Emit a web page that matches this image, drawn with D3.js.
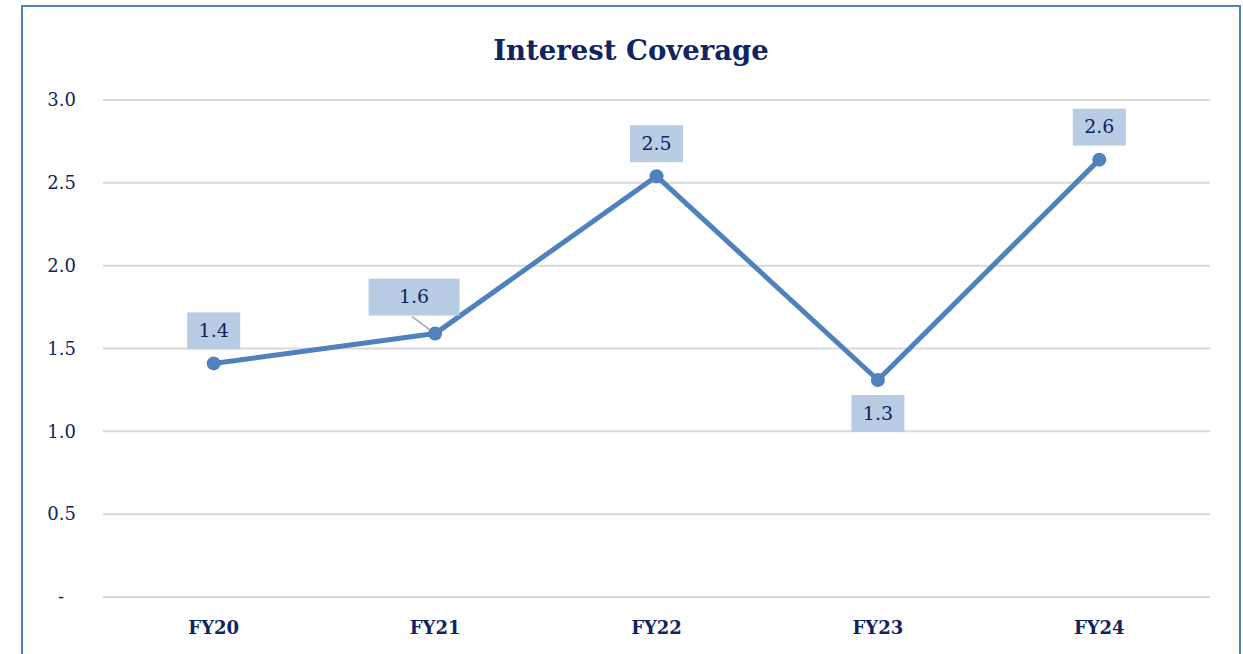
<!DOCTYPE html>
<html>
<head>
<meta charset="utf-8">
<script src="https://d3js.org/d3.v7.min.js"></script>
<style>
  body { margin: 0; background: #fff; }
  text { font-family: "DejaVu Serif", "Liberation Serif", serif; }
</style>
</head>
<body>
<script>
// data
var years = ["FY20", "FY21", "FY22", "FY23", "FY24"];
var coverage = [1.41, 1.59, 2.54, 1.31, 2.64];
var yTicks = [0, 0.5, 1.0, 1.5, 2.0, 2.5, 3.0];

var width = 1243, height = 654;
var plotLeft = 103, plotRight = 1210, plotTop = 100, plotBottom = 597;
var navy = "#0F2461";

var svg = d3.select("body").append("svg")
  .attr("width", width).attr("height", height);

// chart border
svg.append("rect")
  .attr("x", 22).attr("y", 6)
  .attr("width", 1218).attr("height", 700)
  .attr("fill", "#fff")
  .attr("stroke", "#4F81BD").attr("stroke-width", 2);

var x = d3.scaleBand().domain(years).range([plotLeft, plotRight]);
var y = d3.scaleLinear().domain([0, 3]).range([plotBottom, plotTop]);

// gridlines
svg.append("g").selectAll("line").data(yTicks).enter().append("line")
  .attr("x1", plotLeft).attr("x2", plotRight)
  .attr("y1", function(d){ return y(d); })
  .attr("y2", function(d){ return y(d); })
  .attr("stroke", "#D9D9D9").attr("stroke-width", 2);

// y axis labels
var yAxis = d3.axisLeft(y).tickValues(yTicks).tickSize(0)
  .tickFormat(function(d){ return d === 0 ? "-" : d3.format(".1f")(d); });
var ya = svg.append("g").attr("transform", "translate(" + 76 + ",0)").call(yAxis);
ya.select(".domain").remove();
ya.selectAll("text")
  .attr("fill", navy).attr("font-size", "18px")
  .attr("dy", "0.32em")
  .attr("x", function(d){ return d === 0 ? -12 : 0; });

// x axis labels
var xAxis = d3.axisBottom(x).tickSize(0);
var xa = svg.append("g").attr("transform", "translate(0," + plotBottom + ")").call(xAxis);
xa.select(".domain").remove();
xa.selectAll("text")
  .attr("fill", navy).attr("font-size", "18px").attr("font-weight", "bold")
  .attr("dy", "0").attr("y", 37);

// title
svg.append("text")
  .attr("x", 631).attr("y", 60)
  .attr("text-anchor", "middle")
  .attr("font-size", "27.5px").attr("font-weight", "bold")
  .attr("fill", navy)
  .text("Interest Coverage");

var cx = function(i){ return x(years[i]) + x.bandwidth() / 2; };

// line
var line = d3.line()
  .x(function(d, i){ return cx(i); })
  .y(function(d){ return y(d); });
svg.append("path").datum(coverage)
  .attr("d", line)
  .attr("fill", "none")
  .attr("stroke", "#4F81BD").attr("stroke-width", 5)
  .attr("stroke-linejoin", "round");

// label boxes: offset of box centre from point, width
var labelDx = [0, -21, 0, 0, 0];
var labelDy = [-33, -37, -33, 33, -33];
var labelW = [53, 91, 53, 53, 53];

// leader line for FY21
svg.append("line")
  .attr("x1", cx(1) - 23).attr("y1", y(coverage[1]) - 17)
  .attr("x2", cx(1) - 3).attr("y2", y(coverage[1]) - 2)
  .attr("stroke", "#A6A6A6").attr("stroke-width", 1.5);

// markers
svg.append("g").selectAll("circle").data(coverage).enter().append("circle")
  .attr("cx", function(d, i){ return cx(i); })
  .attr("cy", function(d){ return y(d); })
  .attr("r", 7)
  .attr("fill", "#4F81BD");

var lab = svg.append("g").selectAll("g").data(coverage).enter().append("g")
  .attr("transform", function(d, i){
    return "translate(" + (cx(i) + labelDx[i]) + "," + (y(d) + labelDy[i]) + ")";
  });
lab.append("rect")
  .attr("x", function(d, i){ return -labelW[i] / 2; })
  .attr("y", -18)
  .attr("width", function(d, i){ return labelW[i]; })
  .attr("height", 37)
  .attr("fill", "#B8CCE4");
lab.append("text")
  .attr("text-anchor", "middle")
  .attr("dy", "0.35em")
  .attr("font-size", "19px")
  .attr("fill", navy)
  .text(function(d){ return d3.format(".1f")(d); });
</script>
</body>
</html>
